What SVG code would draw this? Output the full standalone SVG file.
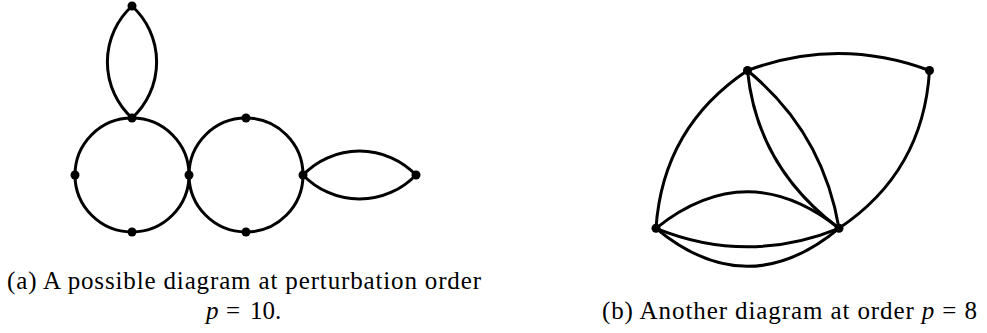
<svg xmlns="http://www.w3.org/2000/svg" width="987" height="333" viewBox="0 0 987 333">
<style>
.e{fill:none;stroke:#000;stroke-width:3}
.v{fill:#000}
.t{font-family:"Liberation Serif","Times New Roman",serif;font-size:25px;fill:#000}
.i{font-style:italic}
</style>
<rect width="987" height="333" fill="#fff"/>
<g id="connectors">
<circle class="e" cx="132" cy="175" r="57"/>
<circle class="e" cx="246" cy="175" r="57"/>
<path class="e" d="M132,6 A76,76 0 0 0 132,118 A76,76 0 0 0 132,6"/>
<path class="e" d="M303,175 A78.5,78.5 0 0 1 416,175 A78.5,78.5 0 0 1 303,175"/>
<path class="e" d="M747.5,70.5 Q838.5,36.5 929.5,70.5"/>
<path class="e" d="M747.5,70.5 Q662.8,127 656,228.3"/>
<path class="e" d="M929.5,70.5 Q923.3,172 839,228.3"/>
<path class="e" d="M747.5,70.5 Q757,167 839,228.3"/>
<path class="e" d="M747.5,70.5 Q822.7,132 839,228.3"/>
<path class="e" d="M656,228.3 Q747.5,155.3 839,228.3"/>
<path class="e" d="M656,228.3 Q747.5,265.3 839,228.3"/>
<path class="e" d="M656,228.3 Q747.5,304.3 839,228.3"/>
</g>
<g id="n1"><circle class="v" cx="132" cy="6" r="4.5"/></g>
<g id="n2"><circle class="v" cx="132" cy="118" r="4.5"/></g>
<g id="n3"><circle class="v" cx="75" cy="175" r="4.5"/></g>
<g id="n4"><circle class="v" cx="189" cy="175" r="4.5"/></g>
<g id="n5"><circle class="v" cx="132" cy="232" r="4.5"/></g>
<g id="n6"><circle class="v" cx="246" cy="118" r="4.5"/></g>
<g id="n7"><circle class="v" cx="303" cy="175" r="4.5"/></g>
<g id="n8"><circle class="v" cx="246" cy="232" r="4.5"/></g>
<g id="n9"><circle class="v" cx="416" cy="175" r="4.5"/></g>
<g id="m1"><circle class="v" cx="747.5" cy="70.5" r="4.5"/></g>
<g id="m2"><circle class="v" cx="929.5" cy="70.5" r="4.5"/></g>
<g id="m3"><circle class="v" cx="656" cy="228.3" r="4.5"/></g>
<g id="m4"><circle class="v" cx="839" cy="228.3" r="4.5"/></g>
<g id="captions">
<text class="t" x="7" y="289" textLength="474">(a) A possible diagram at perturbation order</text>
<text class="t" y="319"><tspan class="i" x="206">p</tspan><tspan x="226">=</tspan><tspan x="250">10.</tspan></text>
<text class="t" x="602" y="319" textLength="375">(b) Another diagram at order <tspan class="i">p</tspan> = 8</text>
</g>
</svg>
